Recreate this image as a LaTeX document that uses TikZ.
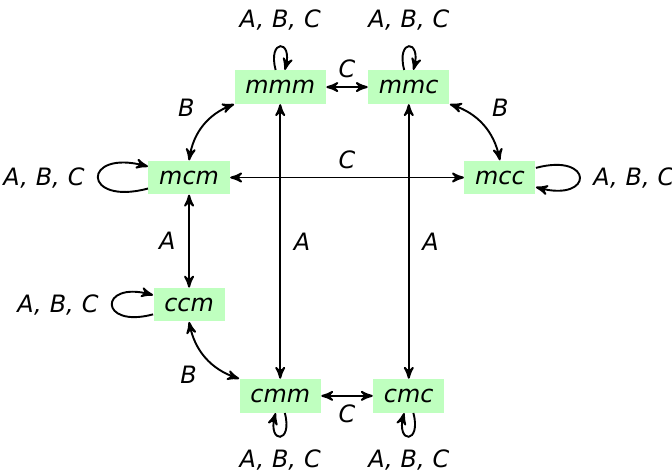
\documentclass[tikz,border=0pt]{standalone}
\usepackage{fontspec}
\setmainfont{DejaVu Sans}
\usetikzlibrary{arrows}

\tikzset{
  stbox/.style={fill=green!25, inner xsep=4.5pt, minimum height=0.49cm, font=\itshape},
  veza/.style={<->, >=stealth', thick},
  petlja/.style={->, >=stealth', thick},
  oznaka/.style={font=\itshape},
  every loop/.style={->, >=stealth', thick, looseness=9, min distance=4mm}
}

\begin{document}
\begin{tikzpicture}
\useasboundingbox (0,0) rectangle (9.88,6.98);

\node[stbox] (mmm) at (4.12,5.70) {mmm};
\node[stbox] (mmc) at (6.01,5.70) {mmc};
\node[stbox] (mcm) at (2.78,4.37) {mcm};
\node[stbox] (mcc) at (7.35,4.37) {mcc};
\node[stbox] (ccm) at (2.78,2.50) {ccm};
\node[stbox] (cmm) at (4.12,1.16) {cmm};
\node[stbox] (cmc) at (6.01,1.16) {cmc};

% prijelazi
\draw[veza] (mmm) -- node[oznaka,above] {C} (mmc);
\draw[veza] (mcm) -- node[oznaka,above] {C} (mcc);
\draw[veza] (cmm) -- node[oznaka,below] {C} (cmc);
\draw[veza] (mmm) -- node[oznaka,right=2pt] {A} (cmm);
\draw[veza] (mmc) -- node[oznaka,right=2pt] {A} (cmc);
\draw[veza] (mcm) -- node[oznaka,left=2pt] {A} (ccm);
\draw[veza] (mcm.north) to[bend left=30] node[oznaka,above left] {B} (mmm.south west);
\draw[veza] (mmc.south east) to[bend left=30] node[oznaka,above right] {B} (mcc.north);
\draw[veza] (ccm.south) to[bend right=30] node[oznaka,below left] {B} (cmm.north west);

% petlje
\path (mmm) edge[loop above] node[oznaka,above=3pt] {A,\thinspace\thinspace B,\thinspace\thinspace C} (mmm);
\path (mmc) edge[loop above] node[oznaka,above=3pt] {A,\thinspace\thinspace B,\thinspace\thinspace C} (mmc);
\draw[petlja] (mcm) to[out=195,in=165,looseness=8] node[oznaka,left=2pt] {A,\thinspace\thinspace B,\thinspace\thinspace C} (mcm);
\draw[petlja] (mcc) to[out=15,in=-15,looseness=8] node[oznaka,right=2pt] {A,\thinspace\thinspace B,\thinspace\thinspace C} (mcc);
\draw[petlja] (ccm) to[out=195,in=165,looseness=7.5] node[oznaka,left=2pt] {A,\thinspace\thinspace B,\thinspace\thinspace C} (ccm);
\path (cmm) edge[loop below] node[oznaka,below=2pt] {A,\thinspace\thinspace B,\thinspace\thinspace C} (cmm);
\path (cmc) edge[loop below] node[oznaka,below=2pt] {A,\thinspace\thinspace B,\thinspace\thinspace C} (cmc);
\end{tikzpicture}
\end{document}
